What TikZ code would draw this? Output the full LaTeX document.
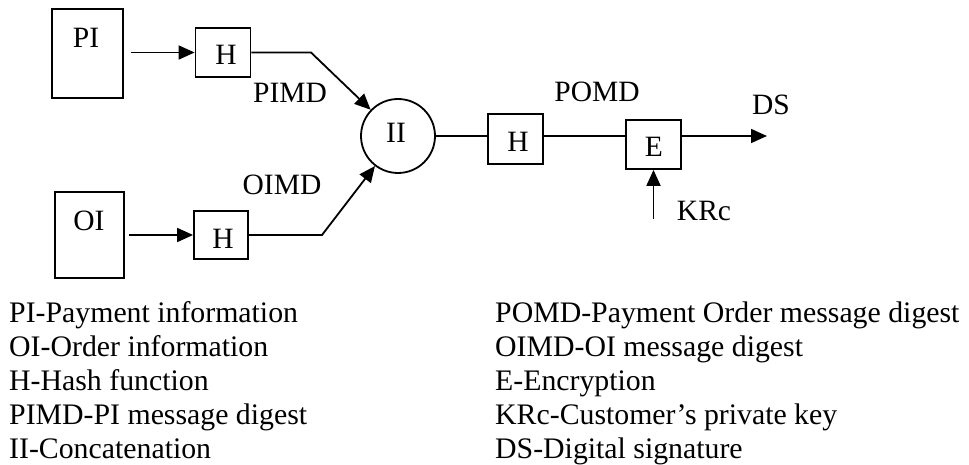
\documentclass[tikz,border=0pt]{standalone}
\usepackage{fontspec}
\setmainfont{Liberation Serif}
\usetikzlibrary{arrows.meta}
\begin{document}
\begin{tikzpicture}[x=1pt,y=-1pt,
  box/.style={draw,line width=1.8pt,inner sep=0pt},
  lbl/.style={inner sep=0pt,anchor=base,font=\fontsize{29.5}{34}\selectfont},
  leg/.style={inner sep=0pt,anchor=base west,font=\fontsize{29.8}{34}\selectfont},
  conn/.style={line width=1.8pt},
  arr/.style={conn,-{Triangle[length=16pt,width=14pt]}}]
\useasboundingbox (0,0) rectangle (969,465);
% boxes
\node[box,minimum width=71pt,minimum height=89pt] (PI) at (87.5,53.5) {};
\node[lbl] (PIt) at (86,48) {PI};
\node[box,minimum width=55pt,minimum height=49pt] (H1) at (223,52.5) {};
\node[lbl] (H1t) at (226,65) {H};
\node[box,minimum width=69pt,minimum height=86pt] (OI) at (89.5,235) {};
\node[lbl] (OIt) at (89,230) {OI};
\node[box,minimum width=54pt,minimum height=48pt] (H2) at (221,235) {};
\node[lbl] (H2t) at (223,248) {H};
\node[box,circle,minimum size=74pt] (II) at (398,136) {};
\node[lbl] (IIt) at (396,143) {II};
\node[box,minimum width=55pt,minimum height=50pt] (H3) at (515.5,139) {};
\node[lbl] (H3t) at (518,152) {H};
\node[box,minimum width=55pt,minimum height=49pt] (E) at (653.5,144.5) {};
\node[lbl] (Et) at (654,157) {E};
% labels
\node[lbl] (pimd) at (290,103) {PIMD};
\node[lbl] (oimd) at (282,195) {OIMD};
\node[lbl] (pomd) at (597,102) {POMD};
\node[lbl] (ds) at (771,115) {DS};
\node[lbl] (krc) at (704,221) {KRc};
% connectors
\draw[arr] ([xshift=7pt]PI.east |- H1.west) -- (H1.west);
\draw[arr] ([xshift=4pt]OI.east |- H2.west) -- (H2.west);
\coordinate (b1) at (311,52.5);
\coordinate (b2) at (322,235);
\draw[arr] (H1.east) -- (b1) -- (II);
\draw[arr] (H2.east) -- (b2) -- (II);
\draw[conn] (II.east) -- (II.east -| H3.west);
\draw[conn] (II.east -| H3.east) -- (II.east -| E.west);
\coordinate (dsend) at (767,136);
\draw[arr] (II.east -| E.east) -- (dsend);
\coordinate (kst) at (653.5,219);
\draw[arr] (kst) -- (E.south);
% legend
\node[leg] (l1) at (9,322) {PI-Payment information};
\node[leg] (l2) at (9,356) {OI-Order information};
\node[leg] (l3) at (9,390) {H-Hash function};
\node[leg] (l4) at (9,424) {PIMD-PI message digest};
\node[leg] (l5) at (9,458) {II-Concatenation};
\node[leg] (r1) at (495,322) {POMD-Payment Order message digest};
\node[leg] (r2) at (495,356) {OIMD-OI message digest};
\node[leg] (r3) at (495,390) {E-Encryption};
\node[leg] (r4) at (495,424) {KRc-Customer’s private key};
\node[leg] (r5) at (495,458) {DS-Digital signature};
\end{tikzpicture}
\end{document}
